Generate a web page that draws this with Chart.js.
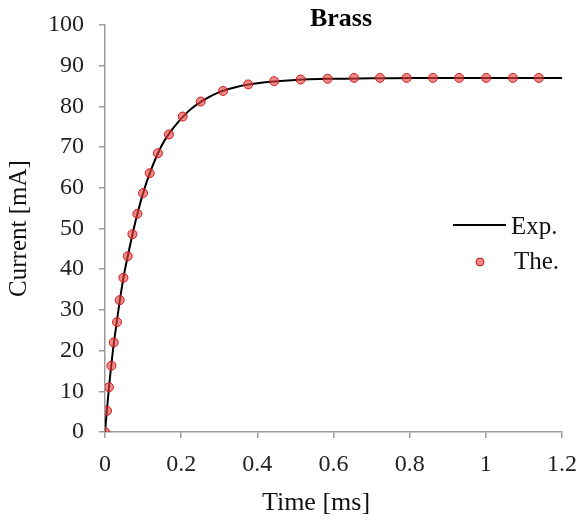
<!DOCTYPE html>
<html>
<head>
<meta charset="utf-8">
<script src="https://cdn.jsdelivr.net/npm/chart.js@4/dist/chart.umd.min.js"></script>
<style>
  body { margin: 0; background: #fff; }
  #wrap { width: 581px; height: 524px; }
</style>
</head>
<body>
<div id="wrap"><canvas id="brassChart" width="581" height="524"></canvas></div>
<script>
// measured curve (Exp.)
const expTime = [0, 0.01, 0.02, 0.03, 0.04, 0.05, 0.06, 0.08, 0.10, 0.12, 0.15, 0.18, 0.22, 0.26, 0.30, 0.35, 0.40, 0.50, 0.60, 0.70, 0.80, 0.90, 1.00, 1.10, 1.20];
const expCurrent = [0, 10.5, 19.4, 26.4, 33.0, 38.7, 43.3, 51.7, 58.7, 64.2, 70.6, 74.8, 78.9, 81.6, 83.5, 84.9, 85.7, 86.5, 86.8, 86.9, 87.0, 87.0, 87.0, 87.0, 87.0];

// theoretical points (The.)
const theTime = [0, 0.0053, 0.0105, 0.0168, 0.0229, 0.0315, 0.0386, 0.0484, 0.0597, 0.072, 0.085, 0.100, 0.1175, 0.139, 0.168, 0.204, 0.2515, 0.310, 0.376, 0.444, 0.5135, 0.5845, 0.654, 0.722, 0.792, 0.861, 0.930, 1.001, 1.071, 1.139];
const theCurrent = [0, 5.2, 11.0, 16.3, 22.0, 27.0, 32.4, 37.9, 43.2, 48.6, 53.6, 58.7, 63.6, 68.5, 73.1, 77.5, 81.2, 83.8, 85.4, 86.2, 86.6, 86.8, 87.0, 87.0, 87.0, 87.0, 87.0, 87.0, 87.0, 87.0];

const seriesNames = ["Exp.", "The."];
const xTicks = { min: 0, max: 1.2, step: 0.2 };
const yTicks = { min: 0, max: 100, step: 10 };
const chartTitle = "Brass";
const xTitle = "Time [ms]";
const yTitle = "Current [mA]";

const serif = "'Liberation Serif', 'DejaVu Serif', serif";
const axisGray = "#9a9a9a";

// title, x title and legend drawn by hand so they sit where the original has them
const annotations = {
  id: "annotations",
  afterDraw(chart) {
    const ctx = chart.ctx;
    const ds = chart.data.datasets;
    ctx.save();
    ctx.textBaseline = "middle";
    ctx.textAlign = "center";

    ctx.fillStyle = "#000";
    ctx.font = "bold 26px " + serif;
    ctx.fillText(chartTitle, 341, 19);

    ctx.fillStyle = "#111";
    ctx.font = "26px " + serif;
    ctx.fillText(xTitle, 316, 503);

    ctx.textAlign = "left";
    ctx.font = "25px " + serif;

    // Exp. line sample
    ctx.strokeStyle = ds[0].borderColor;
    ctx.lineWidth = 2;
    ctx.beginPath();
    ctx.moveTo(453, 225);
    ctx.lineTo(506, 225);
    ctx.stroke();
    ctx.fillText(ds[0].label, 511, 227);

    // The. marker sample
    ctx.beginPath();
    ctx.arc(480, 262, 4, 0, Math.PI * 2);
    ctx.fillStyle = ds[1].pointBackgroundColor;
    ctx.fill();
    ctx.strokeStyle = ds[1].pointBorderColor;
    ctx.lineWidth = 1;
    ctx.stroke();
    ctx.fillStyle = "#111";
    ctx.fillText(ds[1].label, 514, 262);
    ctx.restore();
  }
};

new Chart(document.getElementById("brassChart"), {
  type: "line",
  data: {
    datasets: [
      {
        label: seriesNames[0],
        data: expTime.map((t, i) => ({ x: t, y: expCurrent[i] })),
        borderColor: "#000",
        borderWidth: 2,
        pointRadius: 0,
        cubicInterpolationMode: "monotone",
        fill: false,
        order: 2,
      },
      {
        label: seriesNames[1],
        data: theTime.map((t, i) => ({ x: t, y: theCurrent[i] })),
        showLine: false,
        pointRadius: 4.5,
        pointBackgroundColor: "rgba(232, 64, 64, 0.62)",
        pointBorderColor: "#cc1c1c",
        pointBorderWidth: 1,
        order: 1,
      },
    ],
  },
  options: {
    responsive: false,
    devicePixelRatio: 1,
    animation: false,
    layout: { padding: { left: 0, right: 19, top: 25, bottom: 0 } },
    plugins: {
      legend: { display: false },
      tooltip: { enabled: false },
      title: { display: false },
    },
    scales: {
      x: {
        type: "linear",
        min: xTicks.min,
        max: xTicks.max,
        afterFit: (s) => {
          s.height = 92;
          s.paddingLeft = 0;
          s.paddingRight = 0;
        },
        ticks: {
          stepSize: xTicks.step,
          color: "#222",
          font: { family: serif, size: 24 },
          padding: 12,
          callback: (v) => String(Number(v.toFixed(1))),
        },
        grid: { drawOnChartArea: false, color: axisGray, lineWidth: 1.5, tickLength: 6 },
        border: { color: axisGray, width: 1.5 },
      },
      y: {
        min: yTicks.min,
        max: yTicks.max,
        afterFit: (s) => {
          s.width = 105;
          s.paddingTop = 0;
          s.paddingBottom = 0;
        },
        ticks: {
          stepSize: yTicks.step,
          color: "#222",
          font: { family: serif, size: 24 },
          padding: 15,
        },
        grid: { drawOnChartArea: false, color: axisGray, lineWidth: 1.5, tickLength: 6 },
        border: { color: axisGray, width: 1.5 },
        title: {
          display: true,
          text: yTitle,
          color: "#111",
          font: { family: serif, size: 25 },
          padding: { bottom: 2 },
        },
      },
    },
  },
  plugins: [annotations],
});
</script>
</body>
</html>
